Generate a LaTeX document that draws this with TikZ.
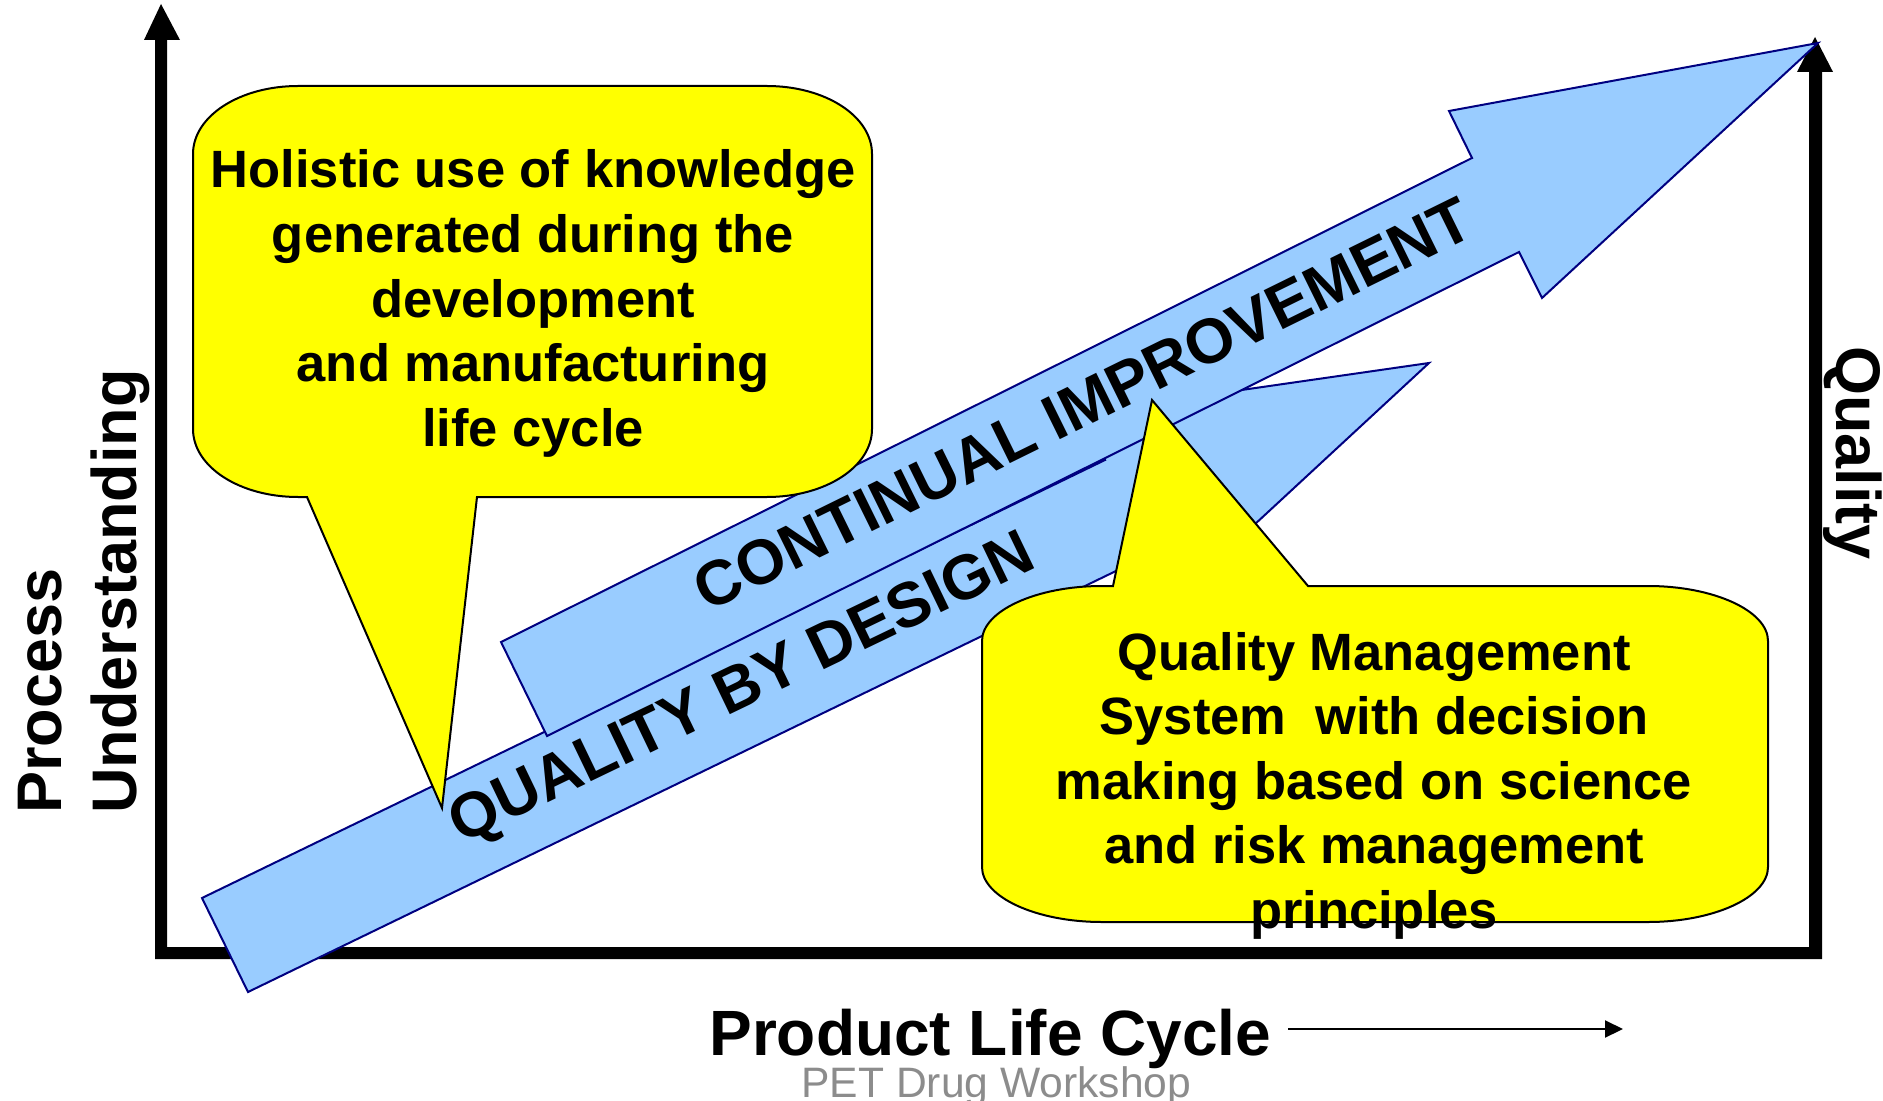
\documentclass[tikz,border=0pt]{standalone}
\usepackage{fontspec}
\setmainfont{Liberation Sans}
\usetikzlibrary{arrows.meta}
\definecolor{arrowblue}{HTML}{99CCFF}
\definecolor{arrowedge}{HTML}{000080}
\definecolor{calloutyellow}{HTML}{FFFF00}
\definecolor{footgray}{HTML}{8C8C8C}
\begin{document}
\begin{tikzpicture}[x=0.5pt,y=-0.5pt,
  bigarrow/.style={fill=arrowblue, draw=arrowedge, line width=1pt, line join=miter},
  callout/.style={fill=calloutyellow, draw=black, line width=1pt, line join=miter},
  bigtext/.style={font=\fontsize{31.5}{37.5}\selectfont\bfseries, inner sep=0pt},
  callouttext/.style={font=\fontsize{26.25}{32.3}\selectfont\bfseries, inner sep=0pt},
  foottext/.style={font=\fontsize{21.3}{25}\selectfont, text=footgray, inner sep=0pt},
  axisfill/.style={fill=black},
  lifearrow/.style={line width=1pt, -{Triangle[length=9pt,width=8.5pt]}}
]
\useasboundingbox (0,0) rectangle (1883,1101);

% axes
\fill[axisfill] (155,959) -- (155,40) -- (144,40) -- (161,4) -- (180,40) -- (167,40)
  -- (167,947) -- (1809,947) -- (1809,72) -- (1797,72) -- (1815,37) -- (1833,72)
  -- (1822,72) -- (1822,959) -- cycle;

% Quality by design arrow
\draw[bigarrow] (202,898) -- (1105,460) -- (1082,413) -- (1429,363) -- (1173,600)
  -- (1151,554) -- (248,992) -- cycle;
\node[bigtext, rotate=25.7] (qbd) at (743,691) {QUALITY BY DESIGN};

% Continual improvement arrow
\draw[bigarrow] (501,642) -- (1472,158) -- (1449,111) -- (1818,43) -- (1542,298)
  -- (1519,252) -- (547,736) -- cycle;
\node[bigtext, rotate=26.2] (ci) at (1083,404) {CONTINUAL IMPROVEMENT};

% left callout
\draw[callout] (298,86) -- (767,86) .. controls (825,86) and (872,116) .. (872,154)
  -- (872,429) .. controls (872,467) and (825,497) .. (767,497)
  -- (477,497) -- (442,808) -- (307,497) -- (298,497)
  .. controls (240,497) and (193,467) .. (193,429)
  -- (193,154) .. controls (193,116) and (240,86) .. (298,86) -- cycle;
\node[callouttext, anchor=base] (holistic) at (533,188)
  {\begin{tabular}[t]{@{}c@{}}Holistic use of knowledge\\generated during the\\development\\and manufacturing\\life cycle\end{tabular}};

% right callout
\draw[callout] (1102,586) -- (1113,586) -- (1152,400) -- (1308,586) -- (1648,586)
  .. controls (1714,586) and (1768,611) .. (1768,641)
  -- (1768,867) .. controls (1768,897) and (1714,922) .. (1648,922)
  -- (1102,922) .. controls (1036,922) and (982,897) .. (982,867)
  -- (982,641) .. controls (982,611) and (1036,586) .. (1102,586) -- cycle;
\node[callouttext, anchor=base] (qms) at (1374,670)
  {\begin{tabular}[t]{@{}c@{}}Quality Management\\System\ \ with decision\\making based on science\\and risk management\\principles\end{tabular}};

% axis labels
\node[bigtext, rotate=90, anchor=base west] (pu) at (61,814)
  {\begin{tabular}[t]{@{}l@{}}Process\\Understanding\end{tabular}};
\node[bigtext, rotate=-90, anchor=base west] (quality) at (1836,346) {Quality};
\node[bigtext, font=\fontsize{32}{37}\selectfont\bfseries, anchor=base west] (plc) at (709,1055) {Product Life Cycle};
\coordinate (plcA) at (1288,1029);
\coordinate (plcB) at (1623,1029);
\draw[lifearrow] (plcA) -- (plcB);
\node[foottext, anchor=base west] (pet) at (801,1097) {PET Drug Workshop};
\end{tikzpicture}
\end{document}
